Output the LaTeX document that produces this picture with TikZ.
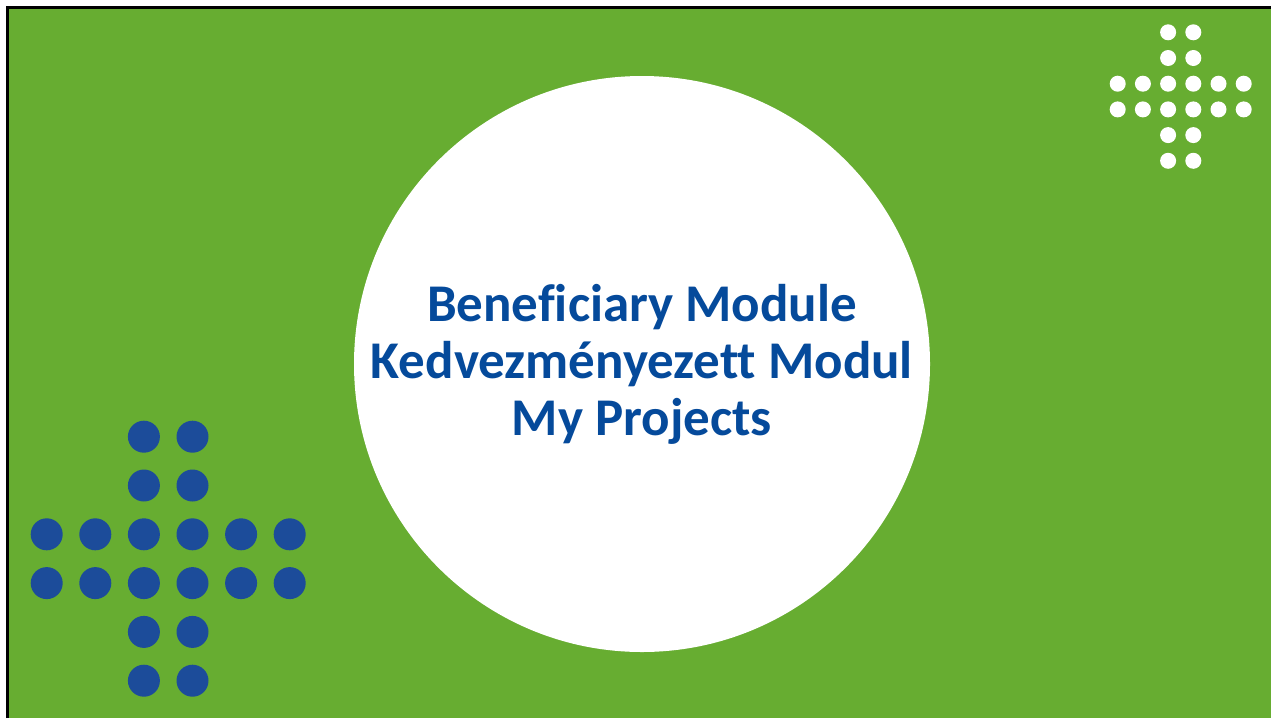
\documentclass[tikz,border=0pt]{standalone}
\usepackage{fontspec}
\setmainfont{Carlito}[Ligatures=CommonOff]
\definecolor{slidegreen}{RGB}{103,173,49}
\definecolor{dotblue}{RGB}{28,76,154}
\definecolor{titleblue}{RGB}{5,74,155}
\tikzset{
  bluedot/.style={circle,fill=dotblue,inner sep=0pt,minimum size=32pt},
  whitedot/.style={circle,fill=white,inner sep=0pt,minimum size=16pt},
  badge/.style={circle,fill=white,inner sep=0pt,minimum size=576pt,align=center,
    text=titleblue,font=\bfseries\fontsize{53}{57}\selectfont}
}
\begin{document}
\begin{tikzpicture}[x=1pt,y=-1pt]
\useasboundingbox (0,0) rectangle (1271,718);
\fill[slidegreen] (7,7) rectangle (1271,718);
\draw[line width=3pt] (7.5,718) -- (7.5,7.5) -- (1271,7.5);

\node[badge] (title) at (642,364) {Beneficiary Module\\Kedvezményezett Modul\\My Projects};

% blue cross, lower left
\foreach \c in {2,3}
  \foreach \r in {0,1,4,5}
    \node[bluedot] (b-\c-\r) at ({46.7+48.6*\c},{436.7+48.8*\r}) {};
\foreach \c in {0,...,5}
  \foreach \r in {2,3}
    \node[bluedot] (b-\c-\r) at ({46.7+48.6*\c},{436.7+48.8*\r}) {};

% white cross, upper right
\foreach \c in {2,3}
  \foreach \r in {0,1,4,5}
    \node[whitedot] (w-\c-\r) at ({1117.7+25.2*\c},{32.3+25.7*\r}) {};
\foreach \c in {0,...,5}
  \foreach \r in {2,3}
    \node[whitedot] (w-\c-\r) at ({1117.7+25.2*\c},{32.3+25.7*\r}) {};
\end{tikzpicture}
\end{document}
